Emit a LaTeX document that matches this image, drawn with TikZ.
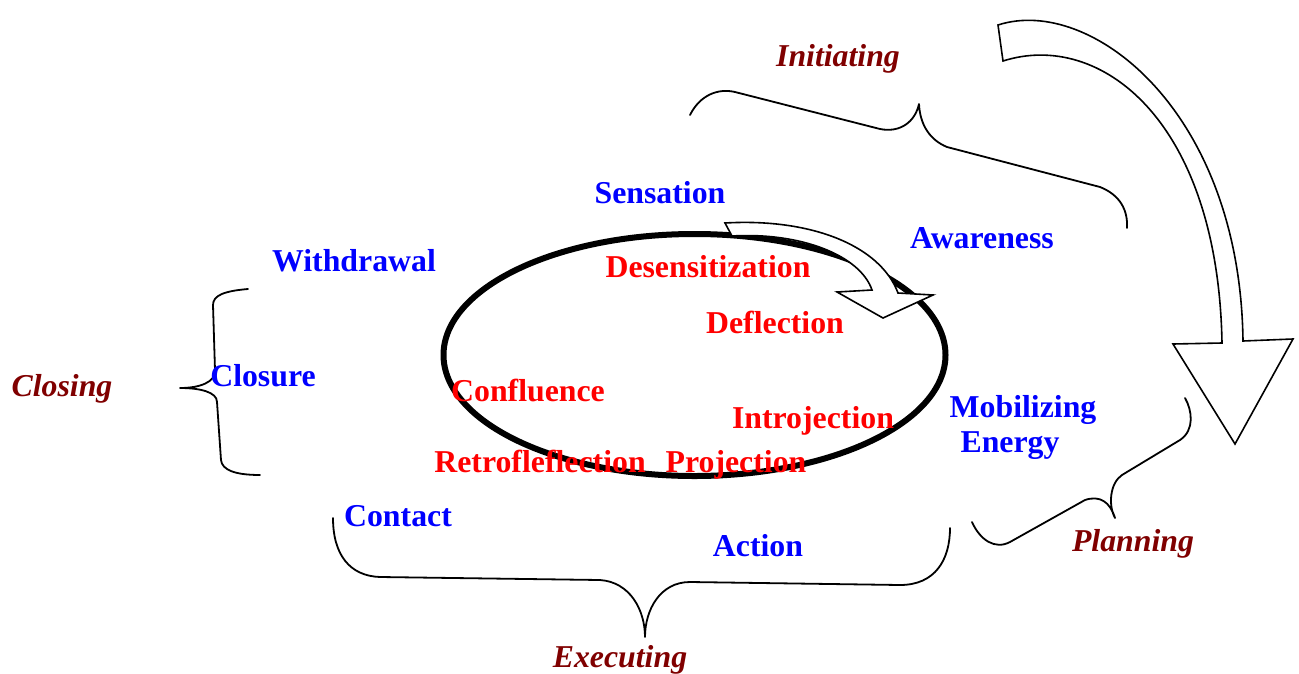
\documentclass[tikz,border=0pt]{standalone}
\usepackage{fontspec}
\setmainfont{Liberation Serif}
\begin{document}
\begin{tikzpicture}[x=1pt,y=-1pt,
  lbl/.style={inner sep=0pt,anchor=base,font=\fontsize{31.8}{36}\selectfont\bfseries},
  stage/.style={lbl,text=blue},
  block/.style={lbl,text=red},
  phase/.style={lbl,font=\fontsize{31.8}{36}\selectfont\bfseries\itshape,text=darkred},
  brace/.style={draw=black,line width=1.8pt,line cap=round,line join=round},
  blockarrow/.style={draw=black,fill=white,line width=1.6pt,line join=miter}]
\definecolor{darkred}{RGB}{128,0,0}
\useasboundingbox (0,0) rectangle (1299,673);
% braces
\draw[brace] (690,115) .. controls (700,95) and (718,88) .. (735,92) -- (880,129)
  .. controls (900,133) and (915,122) .. (919,104)
  .. controls (920,125) and (930,140) .. (947,147) -- (1100,187)
  .. controls (1120,195) and (1128,210) .. (1127,228);
\draw[brace] (248,289) .. controls (225,291) and (213,295) .. (213,305) -- (215,370)
  .. controls (216,382) and (200,388) .. (180,388)
  .. controls (200,388) and (217,392) .. (217,402) -- (221,460)
  .. controls (222,470) and (235,475) .. (260,475);
\draw[brace] (333,518) .. controls (333,555) and (350,576) .. (380,577) -- (600,580)
  .. controls (630,582) and (645,610) .. (645,637)
  .. controls (645,610) and (660,582) .. (690,582) -- (900,585)
  .. controls (935,585) and (950,560) .. (950,528);
\draw[brace] (1185,398) .. controls (1192,410) and (1195,430) .. (1180,440) -- (1122,475)
  .. controls (1110,483) and (1108,505) .. (1115,518)
  .. controls (1110,502) and (1100,495) .. (1085,500) -- (1010,542)
  .. controls (995,550) and (980,540) .. (972,522);
% cycle ellipse
\draw[line width=6pt] (694.5,355) ellipse [x radius=251, y radius=121];
% small curved arrow on the ellipse
\draw[blockarrow] (725,223) .. controls (810,218) and (880,245) .. (898,293) -- (933,295)
  -- (883,318) -- (837,292) -- (872,290)
  .. controls (860,255) and (800,232) .. (732,236) -- cycle;
% big curved arrow
\draw[blockarrow] (998,25) .. controls (1090,-5) and (1240,110) .. (1243,341) -- (1293,339)
  -- (1235,444) -- (1173,344) -- (1222,343)
  .. controls (1218,120) and (1100,30) .. (1003,61) -- cycle;
% labels
\node[phase] (initiating) at (838,66) {Initiating};
\node[phase] (closing) at (62,396) {Closing};
\node[phase] (planning) at (1133,551) {Planning};
\node[phase] (executing) at (620,667) {Executing};
\node[stage] (sensation) at (660,203) {Sensation};
\node[stage] (awareness) at (982,248) {Awareness};
\node[stage] (withdrawal) at (354,271) {Withdrawal};
\node[stage] (closure) at (263,386) {Closure};
\node[stage] (mobilizing) at (1023,417) {Mobilizing};
\node[stage] (energy) at (1010,452) {Energy};
\node[stage] (contact) at (398,526) {Contact};
\node[stage] (action) at (758,556) {Action};
\node[block] (desens) at (708,277) {Desensitization};
\node[block] (deflection) at (775,333) {Deflection};
\node[block] (confluence) at (528,401) {Confluence};
\node[block] (introjection) at (813,428) {Introjection};
\node[block] (retro) at (540,472) {Retrofleflection};
\node[block] (projection) at (736,472) {Projection};
\end{tikzpicture}
\end{document}
